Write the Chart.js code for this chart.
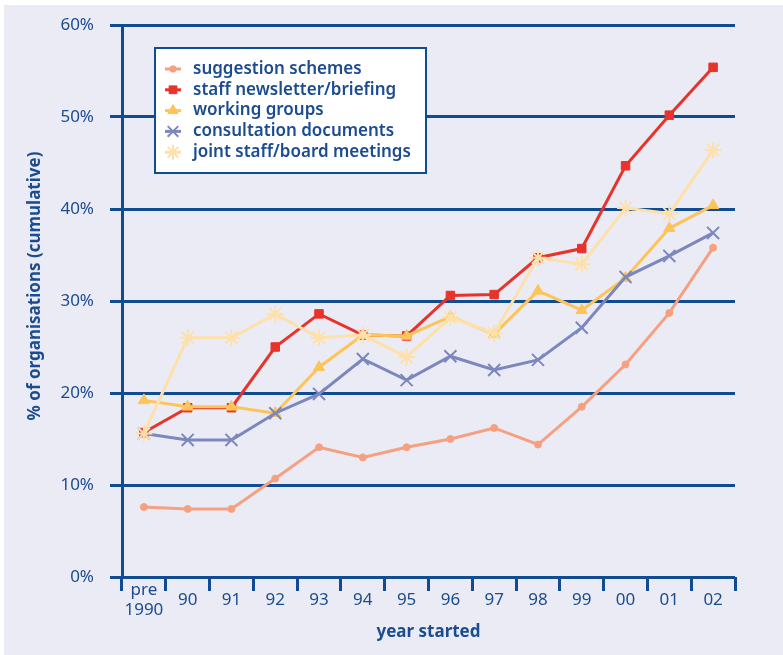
<!DOCTYPE html>
<html><head><meta charset="utf-8">
<script src="https://cdn.jsdelivr.net/npm/chart.js"></script>
<style>
html,body{margin:0;padding:0;background:#fff;width:783px;height:655px;overflow:hidden}
#wrap{position:absolute;left:4px;top:5px;width:779px;height:650px;background:#ebebf5}
</style></head><body><div id="wrap"><canvas id="c"></canvas></div>
<script>
const categories = [["pre","1990"],"90","91","92","93","94","95","96","97","98","99","00","01","02"];
const seriesNames = ["suggestion schemes","staff newsletter/briefing","working groups","consultation documents","joint staff/board meetings"];
const suggestionSchemes = [7.6, 7.4, 7.4, 10.7, 14.1, 13.0, 14.1, 15.0, 16.2, 14.4, 18.5, 23.1, 28.7, 35.8];
const staffNewsletter   = [15.7, 18.4, 18.4, 25.0, 28.6, 26.3, 26.2, 30.6, 30.7, 34.7, 35.7, 44.7, 50.2, 55.4];
const workingGroups     = [19.2, 18.5, 18.5, 17.8, 22.8, 26.3, 26.2, 28.3, 26.4, 31.1, 29.0, 32.5, 37.9, 40.4];
const consultationDocs  = [15.6, 14.9, 14.9, 17.8, 19.9, 23.7, 21.4, 24.0, 22.5, 23.6, 27.1, 32.6, 34.9, 37.4];
const jointMeetings     = [15.6, 26.0, 26.0, 28.6, 26.0, 26.3, 23.9, 28.2, 26.5, 34.7, 34.0, 40.1, 39.5, 46.4];
const yTickValues = [0, 10, 20, 30, 40, 50, 60];
const yAxisTitle = "% of organisations (cumulative)";
const xAxisTitle = "year started";

const NAVY = '#0f4c92';
const TEXT = '#1a4c8f';
const FONT = "'Noto Sans', 'Open Sans', sans-serif";

const styles = [
  {color:'#f5a080', pointStyle:'circle',   radius:3.5, bw:1, lr:3.2},
  {color:'#e8332a', pointStyle:'rect',     radius:6,   bw:1, lr:5.5},
  {color:'#fdc45a', pointStyle:'triangle', radius:6.5, bw:1, lr:6},
  {color:'#7c88bd', pointStyle:'crossRot', radius:8.5, bw:2, lr:7.5},
  {color:'#fee0aa', pointStyle:'star',     radius:8.5, bw:2, lr:7.5}
];
const seriesData = [suggestionSchemes, staffNewsletter, workingGroups, consultationDocs, jointMeetings];

const datasets = seriesData.map((d, i) => ({
  label: seriesNames[i],
  data: d,
  borderColor: styles[i].color,
  backgroundColor: styles[i].color,
  pointBackgroundColor: styles[i].color,
  pointBorderColor: styles[i].color,
  pointStyle: styles[i].pointStyle,
  pointRadius: styles[i].radius,
  pointBorderWidth: styles[i].bw,
  borderWidth: 3,
  tension: 0,
  fill: false,
  order: 4 - i,
  legendRadius: styles[i].lr
}));

const extras = {
  id: 'extras',
  afterDraw(chart) {
    const ctx = chart.ctx;
    ctx.save();
    // y axis title
    ctx.translate(31, 281);
    ctx.rotate(-Math.PI / 2);
    ctx.fillStyle = TEXT;
    ctx.font = "700 17px " + FONT;
    ctx.textAlign = 'center';
    ctx.textBaseline = 'middle';
    ctx.fillText(yAxisTitle, 0, 0);
    ctx.restore();

    // legend
    ctx.save();
    const bx = 151, by = 43, bw = 271, bh = 125;
    ctx.fillStyle = '#ffffff';
    ctx.fillRect(bx, by, bw, bh);
    ctx.strokeStyle = NAVY;
    ctx.lineWidth = 2;
    ctx.strokeRect(bx, by, bw, bh);
    chart.data.datasets.forEach((ds, i) => {
      const cy = 64 + i * 20.8;
      const mx = 169;
      ctx.strokeStyle = ds.borderColor;
      ctx.lineWidth = 3;
      ctx.beginPath();
      ctx.moveTo(mx - 8, cy);
      ctx.lineTo(mx + 8, cy);
      ctx.stroke();
      ctx.fillStyle = ds.pointBackgroundColor;
      ctx.strokeStyle = ds.pointBorderColor;
      ctx.lineWidth = ds.pointBorderWidth;
      Chart.helpers.drawPoint(ctx, {pointStyle: ds.pointStyle, radius: ds.legendRadius, borderWidth: ds.pointBorderWidth, rotation: 0}, mx, cy);
      ctx.fillStyle = TEXT;
      ctx.font = "600 17px " + FONT;
      ctx.textAlign = 'left';
      ctx.textBaseline = 'middle';
      ctx.fillText(ds.label, 189, cy);
    });
    ctx.restore();
  }
};

new Chart(document.getElementById('c'), {
  type: 'line',
  data: { labels: categories, datasets },
  options: {
    responsive: true,
    maintainAspectRatio: false,
    animation: false,
    devicePixelRatio: 1,
    layout: { padding: { top: 20, right: 48, left: 0, bottom: 0 } },
    plugins: { legend: { display: false }, tooltip: { enabled: false } },
    scales: {
      x: {
        type: 'category',
        offset: true,
        grid: { offset: true, drawOnChartArea: false, drawTicks: true, tickLength: 14, color: NAVY, lineWidth: 3 },
        border: { display: false },
        ticks: { color: TEXT, font: { family: FONT, size: 17, lineHeight: 1.2 }, padding: -1, autoSkip: false, maxRotation: 0, minRotation: 0, crossAlign: 'center' },
        title: { display: true, text: xAxisTitle, color: TEXT, font: { family: FONT, size: 17, weight: '700', lineHeight: 1.2 }, padding: { top: 0, bottom: 13 } },
        afterFit: (s) => { s.height = 78; s.paddingLeft = 0; s.paddingRight = 0; }
      },
      y: {
        min: 0, max: 60,
        afterBuildTicks: (s) => { s.ticks = yTickValues.map(v => ({ value: v })); },
        ticks: { color: TEXT, font: { family: FONT, size: 17 }, padding: 16, callback: (v) => v + '%' },
        grid: { color: NAVY, lineWidth: 3, tickLength: 12, drawTicks: true },
        border: { display: true, color: NAVY, width: 3 },
        afterFit: (s) => { s.width = 118; s.paddingTop = 0; s.paddingBottom = 0; }
      }
    }
  },
  plugins: [extras]
});
</script></body></html>
